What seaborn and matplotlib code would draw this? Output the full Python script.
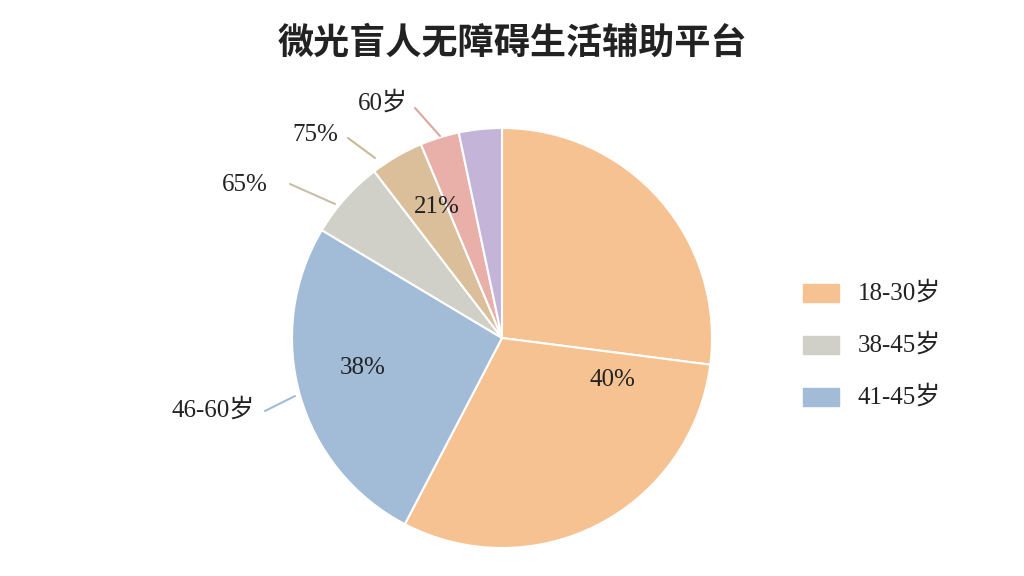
import matplotlib
matplotlib.use("Agg")
import matplotlib.pyplot as plt
import seaborn as sns

segments = ["18-30岁 a", "18-30岁 b", "46-60岁", "38-45岁", "75%", "60岁", "other"]
values = [27.0, 30.6, 25.9, 6.0, 4.1, 3.0, 3.3]
colors = ["#F6C291", "#F6C291", "#A2BCD8", "#D0D0C9", "#DABF9A", "#E8B0A8", "#C3B4D8"]
legend_labels = ["18-30岁", "38-45岁", "41-45岁"]
legend_colors = ["#F6C291", "#D0D0C9", "#A2BCD8"]

sns.set_theme(style="white")
plt.rcParams['font.family'] = ['Noto Sans CJK SC', 'DejaVu Sans']
serif = ['Liberation Serif', 'Noto Sans CJK SC']

fig = plt.figure(figsize=(10.24, 5.76), dpi=100)
ax = fig.add_axes([0, 0, 1, 1])
cx, cy, r = 502, 238, 210
ax.pie(values, colors=colors, startangle=90, counterclock=False, center=(cx, cy),
       radius=r, wedgeprops=dict(edgecolor='white', linewidth=1.5), frame=True)
ax.set_xlim(0, 1024); ax.set_ylim(0, 576); ax.set_aspect('equal'); ax.axis('off')

fig.text(0.5, 0.925, "微光盲人无障碍生活辅助平台", ha='center', va='center', fontsize=26,
         fontweight='bold', color='#222')

inner = [("40%", 612, 196), ("38%", 363, 208), ("21%", 437, 369)]
for t, x, y in inner:
    ax.text(x, y, t, ha='center', va='center', fontsize=18, family=serif, color='#222')
outer = [("60岁", 383, 473, (415, 468), (440, 440), '#D9A9A0'),
         ("75%", 315, 441, (348, 438), (375, 418), '#CDB898'),
         ("65%", 245, 391, (290, 392), (335, 372), '#C9BFA8'),
         ("46-60岁", 213, 166, (265, 165), (295, 180), '#A2BCD8')]
for t, x, y, p1, p2, c in outer:
    ax.text(x, y, t, ha='center', va='center', fontsize=18, family=serif, color='#222')
    ax.plot([p1[0], p2[0]], [p1[1], p2[1]], color=c, lw=1.5)

for i, (lab, c) in enumerate(zip(legend_labels, legend_colors)):
    y = 283 - i * 52
    ax.add_patch(plt.Rectangle((803, y - 9), 36, 18, color=c))
    ax.text(858, y, lab, ha='left', va='center', fontsize=18, family=serif, color='#222')

fig.savefig("out.png", dpi=100, facecolor='white')
